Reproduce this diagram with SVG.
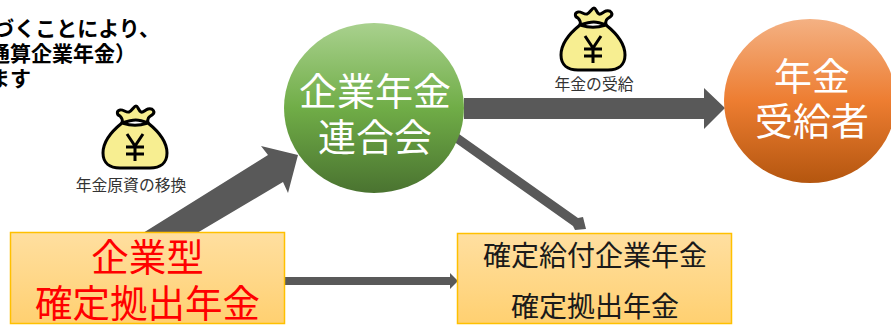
<svg xmlns="http://www.w3.org/2000/svg" width="891" height="326" viewBox="0 0 891 326">
<style>
text{font-family:"Noto Sans CJK JP","Noto Sans",sans-serif;text-anchor:middle}
.conn{fill:#595959}
.box{stroke:#FFC000;stroke-width:1.5;fill:url(#gBox)}
.w{fill:#fff;font-size:38px}
.r{fill:#f00;font-size:37.500px}
.k{fill:#1a1a1a;font-size:28px}
.s{fill:#333;font-size:15.800px}
.b{fill:#000;font-size:21px;font-weight:700;text-anchor:end}
</style>
<defs>
<linearGradient id="gBox" x1="0" y1="0" x2="0" y2="1"><stop offset="0" stop-color="#FFDFA0"/><stop offset="1" stop-color="#FFD071"/></linearGradient>
<linearGradient id="gGreen" x1="0" y1="0" x2="0" y2="1"><stop offset="0" stop-color="#A9D18E"/><stop offset="0.5" stop-color="#70AD47"/><stop offset="1" stop-color="#4A7330"/></linearGradient>
<linearGradient id="gOrange" x1="0" y1="0" x2="0" y2="1"><stop offset="0" stop-color="#F4B183"/><stop offset="0.5" stop-color="#ED7D31"/><stop offset="1" stop-color="#B4560F"/></linearGradient>
<g id="bag">
<path d="M122 123C134 119 138 119 148 123C147 118 149 117 152 115C156 112 153 108 148 109C145 110 143 113 141 112C138 110 138 106 136 106C134 106 132 111 129 112C126 113 123 109 120 110C116 111 117 115 120 116C122 118 123 120 122 123Z" fill="#F7EE91" stroke="#000" stroke-width="3" stroke-linejoin="round"/>
<path d="M122 123C112 131 103 141 103 153C103 163 110 168 120 168L150 168C160 168 167 163 167 153C167 141 158 131 148 123C138 126 132 126 122 123Z" fill="#F7EE91" stroke="#000" stroke-width="3" stroke-linejoin="round"/>
<path d="M127 134L135 146L143 134M126 147H144M126 154H144M135 146V161" fill="none" stroke="#000" stroke-width="3"/>
</g>
</defs>
<g id="connectors">
<polygon class="conn" points="143,233 268,155 261,146 298,155 288,193 283,182 197,233"/>
<polygon class="conn" points="464,98 704,98 704,88 725,108 704,129 704,119 464,119"/>
<polygon class="conn" points="459,134 578,218 583,217 586,229 575,230 573,226 453,141"/>
<polygon class="conn" points="285,277 450,277 450,273 458,281 450,289 450,285 285,285"/>
</g>
<g id="caption">
<text class="b" x="160" y="36">づくことにより、</text>
<text class="b" x="136" y="61">（通算企業年金）</text>
<text class="b" x="31" y="86">ます</text>
</g>
<g id="bag-transfer"><use href="#bag"/><text class="s" x="131" y="191">年金原資の移換</text></g>
<g id="bag-payment"><use href="#bag" transform="translate(458,-98)"/><text class="s" x="594" y="90">年金の受給</text></g>
<g id="node-rengokai">
<ellipse cx="374" cy="108" rx="90" ry="85" fill="url(#gGreen)"/>
<text class="w" x="375" y="105">企業年金</text>
<text class="w" x="375" y="151">連合会</text>
</g>
<g id="node-jukyusha">
<ellipse cx="810" cy="101" rx="86" ry="82" fill="url(#gOrange)"/>
<text class="w" x="812" y="90">年金</text>
<text class="w" x="812" y="135">受給者</text>
</g>
<g id="node-kigyogata">
<rect class="box" x="10.500" y="232.500" width="274" height="91"/>
<text class="r" x="147.500" y="271">企業型</text>
<text class="r" x="147.500" y="317">確定拠出年金</text>
</g>
<g id="node-kakutei">
<rect class="box" x="457.500" y="233.500" width="274" height="90"/>
<text class="k" x="595" y="266">確定給付企業年金</text>
<text class="k" x="595" y="317">確定拠出年金</text>
</g>
</svg>
